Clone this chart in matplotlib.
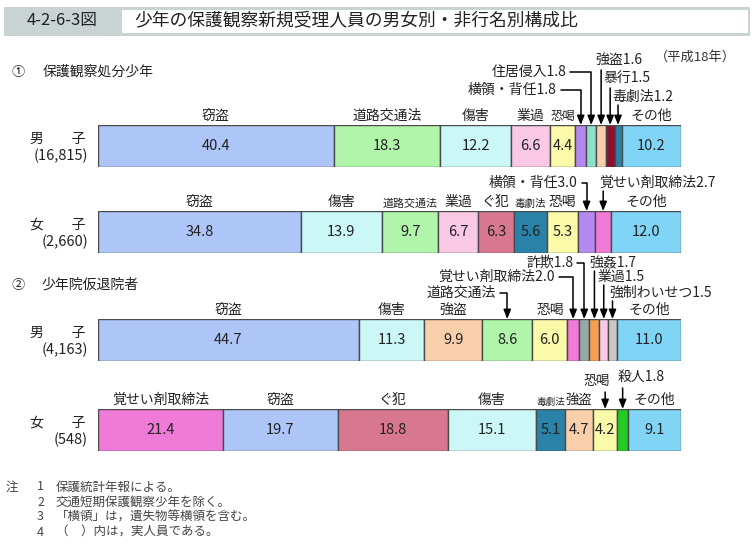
import matplotlib
matplotlib.use('Agg')
import matplotlib.pyplot as plt
from matplotlib.patches import Rectangle
import numpy as np

plt.rcParams['font.family'] = ['Noto Sans CJK JP', 'DejaVu Sans']

W, H = 754, 548

# 構成比（%）
cats_m1 = ['窃盗', '道路交通法', '傷害', '業過', '恐喝', '横領・背任', '住居侵入', '強盗', '暴行', '毒劇法', 'その他']
vals_m1 = [40.4, 18.3, 12.2, 6.6, 4.4, 1.8, 1.8, 1.6, 1.5, 1.2, 10.2]
cats_f1 = ['窃盗', '傷害', '道路交通法', '業過', 'ぐ犯', '毒劇法', '恐喝', '横領・背任', '覚せい剤取締法', 'その他']
vals_f1 = [34.8, 13.9, 9.7, 6.7, 6.3, 5.6, 5.3, 3.0, 2.7, 12.0]
cats_m2 = ['窃盗', '傷害', '強盗', '道路交通法', '恐喝', '覚せい剤取締法', '詐欺', '強姦', '業過', '強制わいせつ', 'その他']
vals_m2 = [44.7, 11.3, 9.9, 8.6, 6.0, 2.0, 1.8, 1.7, 1.5, 1.5, 11.0]
cats_f2 = ['覚せい剤取締法', '窃盗', 'ぐ犯', '傷害', '毒劇法', '強盗', '恐喝', '殺人', 'その他']
vals_f2 = [21.4, 19.7, 18.8, 15.1, 5.1, 4.7, 4.2, 1.8, 9.1]

row_labels = ['男　　子', '女　　子', '男　　子', '女　　子']
row_counts = ['(16,815)', '(2,660)', '(4,163)', '(548)']

colors = {
    '窃盗': '#adc6f7', '道路交通法': '#b0f5aa', '傷害': '#ccf7f7', '業過': '#f9c8e4',
    '恐喝': '#fafaa8', '横領・背任': '#b48af0', '住居侵入': '#8ce0c8', '強盗': '#f8cfaa',
    '暴行': '#8a1030', '毒劇法': '#2a82a8', 'その他': '#80d4f5', 'ぐ犯': '#d87890',
    '覚せい剤取締法': '#f07ad8', '詐欺': '#98a8a8', '強姦': '#f5a050',
    '強制わいせつ': '#c8c8c8', '殺人': '#22cc22',
}

# ラベル配置（ピクセル単位のオフセット、棒の上端・区画中央が基準）
# ('elbow', 文字右端dx, dy) / ('down', 文字左端dx, dy, 線の始点dy) / ('mid', 文字中央dx, dy, 線の始点dy)
lab_m1 = {'横領・背任': ('elbow', -24, 35), '住居侵入': ('elbow', -25, 53),
          '強盗': ('down', -6, 65, 55), '暴行': ('down', -7, 47, 37), '毒劇法': ('down', -6, 28, 20)}
lab_f1 = {'横領・背任': ('elbow', -9, 28), '覚せい剤取締法': ('down', -4, 28, 20)}
lab_m2 = {'道路交通法': ('elbow', -11, 26), '覚せい剤取締法': ('elbow', -18, 42), '詐欺': ('elbow', -11, 56),
          '強姦': ('down', -5, 56, 48), '業過': ('down', -6, 42, 34), '強制わいせつ': ('down', -3, 26, 18)}
lab_f2 = {'恐喝': ('mid', -8, 27, 17), '殺人': ('down', -5, 32, 21)}

rows = [
    (cats_m1, vals_m1, lab_m1, 125),
    (cats_f1, vals_f1, lab_f1, 211),
    (cats_m2, vals_m2, lab_m2, 319),
    (cats_f2, vals_f2, lab_f2, 409),
]

fig = plt.figure(figsize=(W / 100, H / 100), dpi=100)
fig.patch.set_facecolor('white')


def fx(x):
    return x / W


def fy(y):
    return 1 - y / H


tc = '#222222'
arrow_kw = dict(arrowstyle='-|>,head_length=0.55,head_width=0.22', color='black', lw=1.1,
                shrinkA=0, shrinkB=0, mutation_scale=10)

# タイトル
fig.patches.append(Rectangle((fx(4), fy(36)), fx(746), 29 / H, transform=fig.transFigure,
                             facecolor='#c9d3d3', edgecolor='none'))
fig.patches.append(Rectangle((fx(122), fy(33)), fx(626), 23 / H, transform=fig.transFigure,
                             facecolor='white', edgecolor='none'))
fig.text(fx(62), fy(21), '4-2-6-3図', fontsize=12, ha='center', va='center', color=tc)
fig.text(fx(134), fy(21), '少年の保護観察新規受理人員の男女別・非行名別構成比', fontsize=12.8,
         ha='left', va='center', color=tc)

fig.text(fx(12), fy(72), '①', fontsize=9.5, ha='left', va='center', color=tc)
fig.text(fx(43), fy(72), '保護観察処分少年', fontsize=10, ha='left', va='center', color=tc)
fig.text(fx(12), fy(285), '②', fontsize=9.5, ha='left', va='center', color=tc)
fig.text(fx(42), fy(285), '少年院仮退院者', fontsize=10, ha='left', va='center', color=tc)
fig.text(fx(736), fy(57), '（平成18年）', fontsize=9.5, ha='right', va='center', color='#333333')

bh = 42
bar_px = 583
for i, (cats, vals, labs, top) in enumerate(rows):
    ax = fig.add_axes([fx(98), fy(top + bh), bar_px / W, bh / H])
    vals = np.array(vals)
    total = vals.sum()
    left = np.concatenate([[0], np.cumsum(vals)[:-1]])
    ax.barh(0, vals, left=left, height=1, color=[colors[c] for c in cats],
            edgecolor='#4a4a4a', linewidth=1)
    ax.set_xlim(0, total)
    ax.set_ylim(-0.5, 0.5)
    ax.axis('off')
    for c, v, l in zip(cats, vals, left):
        mid = l + v / 2
        if v >= 4:
            ax.text(mid, 0, f'{v:.1f}', ha='center', va='center', fontsize=10.5, color=tc)
        name = c + (f'{v:.1f}' if v < 4 else '')
        spec = labs.get(c)
        if spec is None:
            # 区画の幅に収まるよう文字を縮める
            seg_px = v / total * bar_px
            fs = min(10, seg_px / len(c) * 0.72 * 0.97)
            ax.annotate(c, xy=(mid, 0.5), xytext=(0, 2), textcoords='offset pixels',
                        ha='center', va='bottom', fontsize=fs, color=tc, annotation_clip=False)
        elif spec[0] == 'elbow':
            _, dx, dy = spec
            ax.annotate(name, xy=(mid, 0.5), xytext=(dx, dy), textcoords='offset pixels',
                        ha='right', va='center', fontsize=10, color=tc, annotation_clip=False)
            ax.annotate('', xy=(mid, 0.5), xytext=(dx + 4, dy), textcoords='offset pixels',
                        arrowprops=dict(connectionstyle='angle,angleA=0,angleB=90,rad=0', **arrow_kw),
                        annotation_clip=False)
        elif spec[0] == 'down':
            _, dx, dy, ly = spec
            ax.annotate(name, xy=(mid, 0.5), xytext=(dx, dy), textcoords='offset pixels',
                        ha='left', va='center', fontsize=10, color=tc, annotation_clip=False)
            ax.annotate('', xy=(mid, 0.5), xytext=(0, ly), textcoords='offset pixels',
                        arrowprops=arrow_kw, annotation_clip=False)
        else:
            _, dx, dy, ly = spec
            ax.annotate(name, xy=(mid, 0.5), xytext=(dx, dy), textcoords='offset pixels',
                        ha='center', va='center', fontsize=9.5, color=tc, annotation_clip=False)
            ax.annotate('', xy=(mid, 0.5), xytext=(0, ly), textcoords='offset pixels',
                        arrowprops=arrow_kw, annotation_clip=False)
    yc = top + bh / 2
    fig.text(fx(86), fy(yc - 7), row_labels[i], fontsize=10, ha='right', va='center', color=tc)
    fig.text(fx(88), fy(yc + 10), row_counts[i], fontsize=10.5, ha='right', va='center', color=tc)

# 注
notes = ['保護統計年報による。', '交通短期保護観察少年を除く。', '「横領」は，遺失物等横領を含む。',
         '（　）内は，実人員である。']
fig.text(fx(6), fy(487), '注', fontsize=9, ha='left', va='center', color='#444444')
for k, t in enumerate(notes):
    y = 487 + 15 * k
    fig.text(fx(37), fy(y), str(k + 1), fontsize=9, ha='left', va='center', color='#444444')
    fig.text(fx(56), fy(y), t, fontsize=9, ha='left', va='center', color='#444444')

fig.savefig('out.png', dpi=100)
